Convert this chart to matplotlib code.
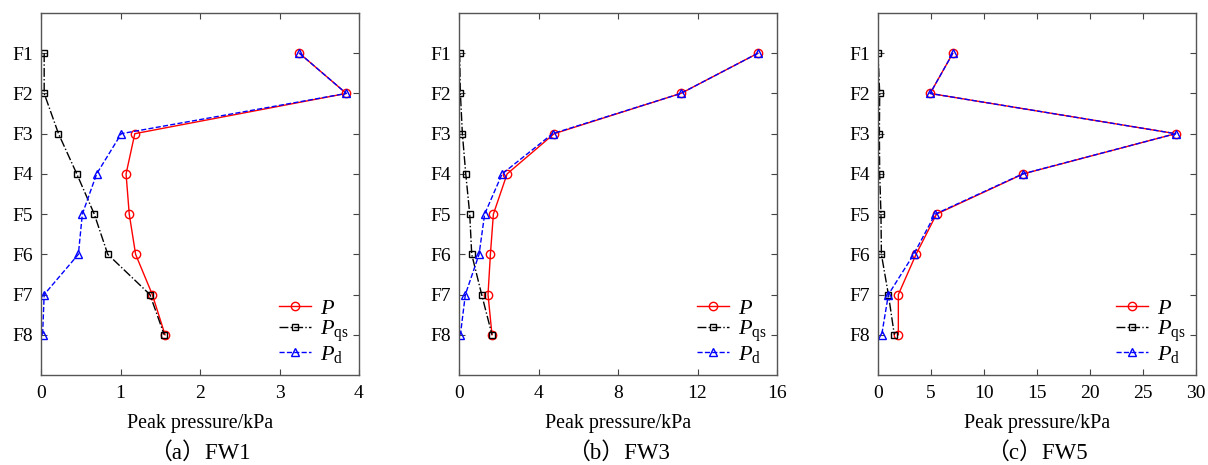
import matplotlib
matplotlib.use("Agg")
import matplotlib.pyplot as plt

plt.rcParams["font.family"] = ["Liberation Serif", "Noto Sans CJK SC"]
plt.rcParams["mathtext.fontset"] = "custom"
plt.rcParams["mathtext.rm"] = "Liberation Serif"
plt.rcParams["mathtext.it"] = "Liberation Serif:italic"

floors = ["F1", "F2", "F3", "F4", "F5", "F6", "F7", "F8"]

# FW1
fw1_p = [3.25, 3.84, 1.18, 1.07, 1.11, 1.19, 1.40, 1.56]
fw1_pqs = [0.04, 0.04, 0.22, 0.45, 0.67, 0.84, 1.37, 1.55]
fw1_pd = [3.25, 3.84, 1.01, 0.70, 0.52, 0.47, 0.04, 0.02]

# FW3
fw3_p = [15.04, 11.16, 4.79, 2.42, 1.73, 1.58, 1.46, 1.66]
fw3_pqs = [0.03, 0.07, 0.17, 0.34, 0.54, 0.64, 1.14, 1.66]
fw3_pd = [15.04, 11.16, 4.71, 2.17, 1.29, 1.01, 0.32, 0.07]

# FW5
fw5_p = [7.06, 4.92, 28.08, 13.71, 5.52, 3.59, 1.92, 1.92]
fw5_pqs = [0.0, 0.16, 0.13, 0.16, 0.28, 0.32, 0.98, 1.54]
fw5_pd = [7.06, 4.92, 28.08, 13.65, 5.39, 3.37, 0.98, 0.35]

panels = [
    ("（a）FW1", fw1_p, fw1_pqs, fw1_pd, 4, [0, 1, 2, 3, 4]),
    ("（b）FW3", fw3_p, fw3_pqs, fw3_pd, 16, [0, 4, 8, 12, 16]),
    ("（c）FW5", fw5_p, fw5_pqs, fw5_pd, 30, [0, 5, 10, 15, 20, 25, 30]),
]

fig = plt.figure(figsize=(12.08, 4.65), dpi=100)
lefts = [41, 459, 878]
ypos = list(range(1, len(floors) + 1))

for left, (caption, p, pqs, pd, xmax, xticks) in zip(lefts, panels):
    ax = fig.add_axes([left / 1208, 1 - 375 / 465, 318 / 1208, 362 / 465])
    ax.plot(p, ypos, color="red", ls="-", lw=1.0, marker="o", ms=6,
            mfc="none", mew=1.0, label="$P$")
    ax.plot(pqs, ypos, color="black", ls="-.", lw=1.0, marker="s", ms=5,
            mfc="none", mew=1.0, label=r"$P_{\rm qs}$")
    ax.plot(pd, ypos, color="blue", ls="--", lw=1.0, marker="^", ms=6,
            mfc="none", mew=1.0, label=r"$P_{\rm d}$")

    ax.set_xlim(0, xmax)
    ax.set_ylim(9, 0)
    ax.set_xticks(xticks)
    ax.set_yticks(ypos)
    ax.set_yticklabels(floors)
    ax.tick_params(direction="in", top=True, right=True, labelsize=14,
                   length=4, width=0.8, color="#444444")
    ax.tick_params(axis="x", pad=7)
    ax.tick_params(axis="y", pad=6)
    for spine in ax.spines.values():
        spine.set_color("#555555")
        spine.set_linewidth(1.0)
    ax.set_xlabel("Peak pressure/kPa", fontsize=14.4, labelpad=9)
    ax.text(0.5, -0.215, caption, transform=ax.transAxes, ha="center",
            va="center", fontsize=16.5)
    ax.legend(loc="lower right", frameon=False, fontsize=16, handlelength=1.45,
              borderaxespad=0.05, labelspacing=0.0, handletextpad=0.4)

fig.savefig("out.png", dpi=100)
